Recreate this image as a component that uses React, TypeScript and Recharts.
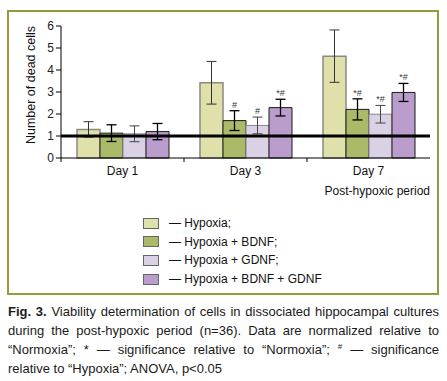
import { BarChart, Bar, XAxis, YAxis, ReferenceLine, ErrorBar, LabelList, Legend } from "recharts";

const days = ["Day 1", "Day 3", "Day 7"];
const hypoxia = [1.3, 3.42, 4.63];
const hypoxiaErr = [0.35, 0.97, 1.19];
const bdnf = [1.13, 1.7, 2.21];
const bdnfErr = [0.38, 0.45, 0.48];
const gdnf = [1.1, 1.48, 1.99];
const gdnfErr = [0.36, 0.38, 0.4];
const both = [1.2, 2.29, 2.98];
const bothErr = [0.37, 0.38, 0.41];
const bdnfMarks = ["", "#", "*#"];
const gdnfMarks = ["", "#", "*#"];
const bothMarks = ["", "*#", "*#"];
const yTicks = [0, 1, 2, 3, 4, 5, 6];
const seriesKeys = ["hypoxia", "bdnf", "gdnf", "both"];
const legendNames = ["Hypoxia;", "Hypoxia + BDNF;", "Hypoxia + GDNF;", "Hypoxia + BDNF + GDNF"];

const data = days.map((day, i) => ({
  day,
  hypoxia: hypoxia[i],
  hypoxiaErr: hypoxiaErr[i],
  bdnf: bdnf[i],
  bdnfErr: bdnfErr[i],
  bdnfMark: bdnfMarks[i],
  gdnf: gdnf[i],
  gdnfErr: gdnfErr[i],
  gdnfMark: gdnfMarks[i],
  both: both[i],
  bothErr: bothErr[i],
  bothMark: bothMarks[i],
}));

const FONT = "'Liberation Sans', Arial, Helvetica, sans-serif";

function makeMark(vals: number[], errs: number[]) {
  return (props: any) => {
    const { x, y, width, height, value, index } = props;
    if (!value) return null;
    const perUnit = height / vals[index];
    const top = y - errs[index] * perUnit;
    return (
      <text x={x + width / 2} y={top - 3} textAnchor="middle" fontSize={9} fill="#333" fontFamily={FONT}>
        {value}
      </text>
    );
  };
}

function DayTick(props: any) {
  const { x, y, payload } = props;
  const half = payload.offset ?? 0;
  const axisY = y - 8;
  return (
    <g>
      <line x1={x - half} x2={x - half} y1={axisY} y2={axisY + 4} stroke="#000" />
      <text x={x} y={y} dy="0.71em" textAnchor="middle" fontSize={12} fill="#111" fontFamily={FONT}>
        {payload.value}
      </text>
    </g>
  );
}

function LegendBox(props: any) {
  const items = [...(props.payload || [])].sort(
    (a: any, b: any) => seriesKeys.indexOf(a.dataKey) - seriesKeys.indexOf(b.dataKey)
  );
  return (
    <div style={{ fontFamily: FONT, fontSize: 12, color: "#111" }}>
      {items.map((it: any) => (
        <div key={it.dataKey} style={{ display: "flex", alignItems: "center", height: 18.6 }}>
          <span
            style={{
              display: "inline-block",
              width: 14,
              height: 9,
              background: it.color,
              border: "1px solid #666",
              marginRight: 10,
            }}
          />
          <span>— {legendNames[seriesKeys.indexOf(it.dataKey)]}</span>
        </div>
      ))}
    </div>
  );
}

export default function App() {
  return (
    <div style={{ position: "absolute", left: 0, top: 0, width: 447, height: 381, background: "#fff" }}>
      <div
        style={{
          position: "absolute",
          left: 7,
          top: 10,
          width: 428,
          height: 281,
          border: "2px solid #959b3a",
        }}
      />
      <div style={{ position: "absolute", left: 0, top: 0 }}>
        <BarChart
          width={447}
          height={295}
          data={data}
          margin={{ top: 26, right: 17, bottom: 107, left: 41 }}
          barCategoryGap={16}
          barGap={0}
        >
          <XAxis
            dataKey="day"
            axisLine={{ stroke: "#000" }}
            tickLine={false}
            tickSize={4}
            tickMargin={4}
            tick={<DayTick />}
            interval={0}
            label={(p: any) => {
              const vb = p.viewBox;
              return (
                <text x={vb.x + vb.width} y={vb.y + 37} textAnchor="end" fontSize={12} fill="#111" fontFamily={FONT}>
                  Post-hypoxic period
                </text>
              );
            }}
          />
          <YAxis
            width={20}
            domain={[0, 6]}
            ticks={yTicks}
            interval={0}
            axisLine={{ stroke: "#000" }}
            tickLine={{ stroke: "#000" }}
            tickSize={5}
            tick={{ fontSize: 12, fill: "#222", fontFamily: FONT }}
            label={() => (
              <text
                x={31}
                y={85}
                transform="rotate(-90 31 85)"
                textAnchor="middle"
                dominantBaseline="central"
                fontSize={12.5}
                fill="#111"
                fontFamily={FONT}
              >
                Number of dead cells
              </text>
            )}
          />
          <Bar dataKey="hypoxia" fill="#e0e0aa" stroke="#8a8a80" strokeWidth={1.5} isAnimationActive={false}>
            <ErrorBar dataKey="hypoxiaErr" width={5} stroke="#333" strokeWidth={1} direction="y" />
          </Bar>
          <Bar dataKey="bdnf" fill="#abba68" stroke="#1a1a1a" strokeWidth={1} isAnimationActive={false}>
            <ErrorBar dataKey="bdnfErr" width={5} stroke="#000" strokeWidth={1.3} direction="y" />
            <LabelList dataKey="bdnfMark" content={makeMark(bdnf, bdnfErr)} />
          </Bar>
          <Bar dataKey="gdnf" fill="#dad1e4" stroke="#8a8590" strokeWidth={1} isAnimationActive={false}>
            <ErrorBar dataKey="gdnfErr" width={5} stroke="#444" strokeWidth={1} direction="y" />
            <LabelList dataKey="gdnfMark" content={makeMark(gdnf, gdnfErr)} />
          </Bar>
          <Bar dataKey="both" fill="#ba9dcc" stroke="#1a1a1a" strokeWidth={1} isAnimationActive={false}>
            <ErrorBar dataKey="bothErr" width={5} stroke="#000" strokeWidth={1.3} direction="y" />
            <LabelList dataKey="bothMark" content={makeMark(both, bothErr)} />
          </Bar>
          <ReferenceLine y={1} stroke="#000" strokeWidth={3} ifOverflow="extendDomain" />
          <Legend
            layout="vertical"
            align="center"
            verticalAlign="middle"
            content={<LegendBox />}
            wrapperStyle={{ left: 143, top: 214, width: 220 }}
          />
        </BarChart>
      </div>
      <div
        style={{
          position: "absolute",
          left: 8,
          top: 302,
          width: 431,
          fontFamily: FONT,
          fontSize: 13,
          lineHeight: "19px",
          textAlign: "justify",
          color: "#1a1a1a",
        }}
      >
        <b>Fig. 3.</b> Viability determination of cells in dissociated hippocampal cultures during the
        post-hypoxic period (n=36). Data are normalized relative to “Normoxia”; * — significance relative
        to “Normoxia”; <sup style={{ fontSize: 8, lineHeight: 0 }}>#</sup> — significance relative to
        “Hypoxia”; ANOVA, p&lt;0.05
      </div>
    </div>
  );
}
